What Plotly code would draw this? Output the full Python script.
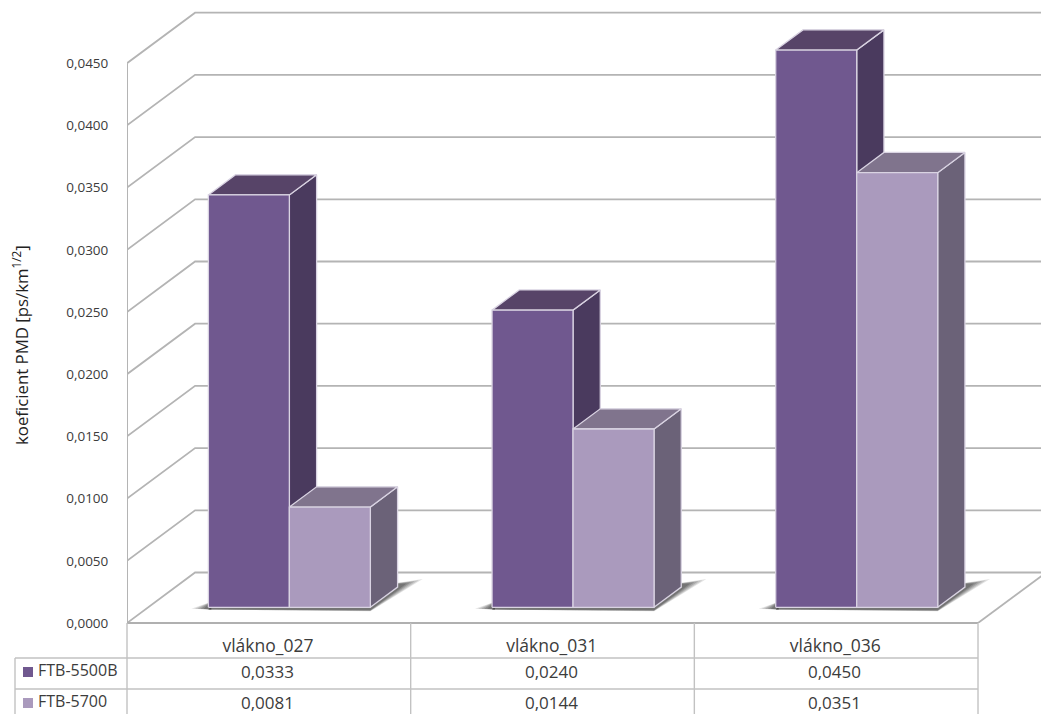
import plotly.graph_objects as go

# ---- data ----
categories = ["vlákno_027", "vlákno_031", "vlákno_036"]
series_names = ["FTB-5500B", "FTB-5700"]
ftb_5500b = [0.0333, 0.0240, 0.0450]
ftb_5700 = [0.0081, 0.0144, 0.0351]
y_ticks = [0.0, 0.005, 0.01, 0.015, 0.02, 0.025, 0.03, 0.035, 0.04, 0.045]

# ---- style ----
FONT = "Open Sans"
TXT = "#3c3c3c"
GRID = "#b4b4b4"
TABLE = "#c2c2c2"
EDGE = "#d9d3e2"
dark = dict(front="#70588f", top="#574468", side="#4a3a5e")
light = dict(front="#aa9abd", top="#80748d", side="#6b6278")

# ---- projection (oblique depth, in axis units) ----
W, H = 1041, 714
PLOT_L, PLOT_B = 127, 91
DX, DY = 0.24, 0.00406
BAR_W = 0.2855
BAR_SHIFT = -0.002
D0, D1 = 0.31, 0.71
BAR_K = 0.9955
PX_X = 283.67
PX_Y = 12440.0
X_MAX = (W - PLOT_L) / PX_X
Y_MAX = (H - PLOT_B) / PX_Y


def proj(x, y, d):
    return x + d * DX, y + d * DY


def poly(pts, fill, line=None, width=1.3):
    xs, ys = zip(*(pts + pts[:1]))
    return go.Scatter(x=xs, y=ys, mode="lines", fill="toself", fillcolor=fill,
                      line=dict(color=line or "rgba(0,0,0,0)", width=width if line else 0),
                      hoverinfo="skip", showlegend=False)


def grid(xs, ys, color=GRID, width=1.8):
    return go.Scatter(x=xs, y=ys, mode="lines", line=dict(color=color, width=width),
                      hoverinfo="skip", showlegend=False)


def tline(xs, ys, color=TABLE, width=1.4):
    return go.Scatter(x=xs, y=ys, xaxis="x2", yaxis="y2", mode="lines",
                      line=dict(color=color, width=width),
                      hoverinfo="skip", showlegend=False)


fig = go.Figure()

# grid: side wall + back wall
for v in y_ticks:
    bx, by = proj(0, v, 1)
    fig.add_trace(grid([0, bx, X_MAX], [v, by, by]))
ex, ey = proj(3, 0, 1)
fig.add_trace(grid([3, ex], [0, ey]))
fig.add_trace(grid([0, 0], [0, y_ticks[-1]], GRID, 2))


def box(x0, x1, value, c):
    v = value * BAR_K
    fl = proj(x0, 0, D0)
    fr = proj(x1, 0, D0)
    tl = proj(x0, v, D0)
    tr = proj(x1, v, D0)
    bl = proj(x0, v, D1)
    br = proj(x1, v, D1)
    br0 = proj(x1, 0, D1)
    return [poly([tr, br, br0, fr], c["side"], EDGE),
            poly([tl, tr, br, bl], c["top"], EDGE),
            poly([fl, fr, tr, tl], c["front"], EDGE)]


# soft shadows on the floor: nested translucent wedges fade towards the tips
for i in range(len(categories)):
    c = i + 0.5 + BAR_SHIFT
    x0 = c - BAR_W
    x1 = c + BAR_W
    for grow, alpha in [(1.0, 0.14), (0.82, 0.17), (0.64, 0.20), (0.46, 0.24), (0.28, 0.28)]:
        # right wedge, under and beyond the bar's side face
        a = proj(x0, -0.00018, D0)
        b = proj(x1, -0.0002 - 0.00012 * grow, D0)
        g = proj(x1 + 0.05 * grow, 0, D1 + 0.04 + 0.12 * grow)
        h = proj(x1 - 0.05, 0, D1 + 0.05)
        k = proj(x0, 0, D0 + 0.13)
        fig.add_trace(poly([a, b, g, h, k], f"rgba(55,55,55,{alpha})"))
        # left wedge
        tip = proj(x0 - 0.06 * grow, -0.00012, D0)
        up = proj(x0 + 0.01, 0.00045, D0)
        low = proj(x0 + 0.01, -0.00018, D0)
        fig.add_trace(poly([tip, up, low], f"rgba(55,55,55,{alpha})"))

# bars, drawn back-to-front
for i in range(len(categories)):
    c = i + 0.5 + BAR_SHIFT
    for t in box(c - BAR_W, c, ftb_5500b[i], dark):
        fig.add_trace(t)
    for t in box(c, c + BAR_W, ftb_5700[i], light):
        fig.add_trace(t)

# ---- data table below the plot, on a second axis pair spanning the page ----
row1 = -35 / PX_Y
row2 = -66 / PX_Y
bottom = -(PLOT_B + 2) / PX_Y
LEFT = -112 / PX_X

fig.add_trace(tline([0, 3], [0, 0], "#b0b0b0", 2.2))
for xv in [0, 1, 2, 3]:
    fig.add_trace(tline([xv, xv], [0, bottom]))
fig.add_trace(tline([LEFT, LEFT], [row1, bottom]))
fig.add_trace(tline([LEFT, 3], [row1, row1]))
fig.add_trace(tline([LEFT, 3], [row2, row2]))

annotations = []


def note(x, y, text, size=17, anchor="center"):
    annotations.append(dict(x=x, y=y, xref="x2", yref="y2", text=text, showarrow=False,
                            xanchor=anchor, yanchor="middle",
                            font=dict(family=FONT, size=size, color=TXT)))


row_y = [-48 / PX_Y, -79 / PX_Y]
for r, (name, vals, col) in enumerate(zip(series_names, [ftb_5500b, ftb_5700], [dark, light])):
    fig.add_trace(go.Scatter(x=[-99 / PX_X], y=[row_y[r] - 1 / PX_Y], xaxis="x2", yaxis="y2", mode="markers",
                             marker=dict(symbol="square", size=10, color=col["front"], line=dict(width=0)),
                             hoverinfo="skip", showlegend=False))
    note(-91 / PX_X, row_y[r] + 1 / PX_Y, name, 16, "left")
    for i, v in enumerate(vals):
        note(i + 0.495, row_y[r], f"{v:.4f}".replace(".", ","))

annotations.append(dict(x=20 / W, y=1 - 345 / H, xref="paper", yref="paper", showarrow=False,
                        text="koeficient PMD [ps/km<sup>1/2</sup>]", textangle=-90,
                        xanchor="center", yanchor="middle",
                        font=dict(family=FONT, size=16.8, color="#222222")))

fig.update_layout(
    width=W, height=H, autosize=False,
    margin=dict(l=0, r=0, t=0, b=0, pad=0),
    paper_bgcolor="white", plot_bgcolor="rgba(0,0,0,0)",
    showlegend=False, annotations=annotations,
    font=dict(family=FONT, color=TXT),
    xaxis=dict(domain=[PLOT_L / W, 1], range=[0, X_MAX], showgrid=False, zeroline=False, showline=False,
               automargin=False,
               tickmode="array", tickvals=[0.497, 1.497, 2.497], ticktext=categories,
               ticks="outside", ticklen=7, tickcolor="rgba(0,0,0,0)",
               tickfont=dict(family=FONT, size=17.5, color=TXT)),
    yaxis=dict(domain=[PLOT_B / H, 1], range=[0, Y_MAX], showgrid=False, zeroline=False, showline=False,
               automargin=False,
               tickmode="array", tickvals=y_ticks,
               ticktext=[f"{v:.4f}".replace(".", ",") for v in y_ticks],
               ticks="outside", ticklen=15, tickcolor="rgba(0,0,0,0)",
               tickfont=dict(family=FONT, size=13.5, color=TXT)),
    xaxis2=dict(domain=[0, 1], range=[-PLOT_L / PX_X, X_MAX], anchor="y2", visible=False, automargin=False),
    yaxis2=dict(domain=[0, 1], range=[-PLOT_B / PX_Y, Y_MAX], anchor="x2", visible=False, automargin=False),
)

fig.write_html("out.html", config={"displayModeBar": False},
               post_script="document.body.style.margin='0';")
